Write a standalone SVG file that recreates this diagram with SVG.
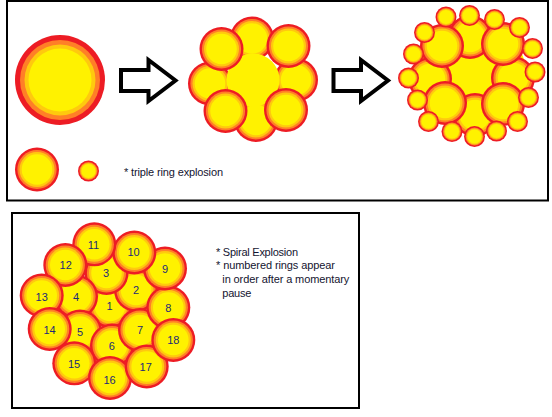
<svg xmlns="http://www.w3.org/2000/svg" xmlns:xlink="http://www.w3.org/1999/xlink" width="552" height="417" viewBox="0 0 552 417">
<style>
.panel{fill:#fff;stroke:#000;stroke-width:2}
.arrow{fill:#fff;stroke:#000;stroke-width:4;stroke-linejoin:miter}
.txt{font-family:"Liberation Sans",Arial,sans-serif;font-size:11px;fill:#141430}
.num{font-family:"Liberation Sans",Arial,sans-serif;font-size:11px;fill:#1c2a78;text-anchor:middle}
.y{fill:#FFF200}
</style>
<defs>
<g id="r22"><circle r="22" fill="#ED1C24"/><circle r="19.6" fill="#FF7F27"/><circle r="17.5" fill="#FFC90E"/><circle r="15.3" fill="#FFF200"/></g>
<g id="r11"><circle r="10.5" fill="#ED1C24"/><circle r="9" fill="#FF7F27"/><circle r="8" fill="#FFC90E"/><circle r="7" fill="#FFF200"/></g>
<g id="r45"><circle r="45" fill="#ED1C24"/><circle r="40" fill="#FF7F27"/><circle r="35.5" fill="#FFC90E"/><circle r="31.5" fill="#FFF200"/></g>
</defs>
<rect class="panel" x="7" y="1" width="541" height="199.5"/>
<rect class="panel" x="12" y="213" width="347" height="195"/>

<g id="big-ring"><use href="#r45" x="60" y="80"/></g>
<g id="legend-medium"><use href="#r22" x="37" y="169.5"/></g>
<g id="legend-small"><use href="#r11" x="88.5" y="171"/></g>
<text class="txt" x="124" y="176" textLength="99">* triple ring explosion</text>

<g id="cluster-middle">
<use href="#r22" x="252" y="38.5"/>
<use href="#r22" x="296" y="80"/>
<use href="#r22" x="256" y="120"/>
<use href="#r22" x="210" y="83.5"/>
<circle class="y" cx="253" cy="80" r="26.5"/>
<use href="#r22" x="221.5" y="49"/>
<use href="#r22" x="288.5" y="46"/>
<use href="#r22" x="286" y="110"/>
<use href="#r22" x="225.5" y="111"/>
</g>

<g id="cluster-right">
<circle class="y" cx="472" cy="77" r="55"/>
<use href="#r22" x="470" y="37"/>
<use href="#r22" x="513" y="78"/>
<use href="#r22" x="475" y="115"/>
<use href="#r22" x="430" y="79"/>
<use href="#r22" x="442" y="46"/>
<use href="#r22" x="503" y="44"/>
<use href="#r22" x="503" y="104"/>
<use href="#r22" x="445" y="103"/>
<use href="#r11" x="446" y="17"/>
<use href="#r11" x="469.5" y="15.5"/>
<use href="#r11" x="494.5" y="19.5"/>
<use href="#r11" x="519.5" y="27.5"/>
<use href="#r11" x="532.5" y="48.5"/>
<use href="#r11" x="535" y="72"/>
<use href="#r11" x="528.5" y="97.5"/>
<use href="#r11" x="517.5" y="121.5"/>
<use href="#r11" x="496.5" y="131"/>
<use href="#r11" x="474.5" y="136.5"/>
<use href="#r11" x="452" y="131.5"/>
<use href="#r11" x="428.5" y="121.5"/>
<use href="#r11" x="417.5" y="100"/>
<use href="#r11" x="408.5" y="78"/>
<use href="#r11" x="413.5" y="54"/>
<use href="#r11" x="424.5" y="32.5"/>
</g>

<g id="connectors">
<polygon class="arrow" points="121,70 148.5,70 148.5,60 175.5,80.5 148.5,101 148.5,91 121,91"/>
<polygon class="arrow" points="333.5,70 361,70 361,60 388,80.5 361,101 361,91 333.5,91"/>
</g>

<g id="spiral">
<g id="n1"><use href="#r22" x="110" y="306"/><text class="num" x="109.5" y="310">1</text></g>
<g id="n2"><use href="#r22" x="136" y="290"/><text class="num" x="136" y="294">2</text></g>
<g id="n3"><use href="#r22" x="106.5" y="273"/><text class="num" x="106" y="277">3</text></g>
<g id="n4"><use href="#r22" x="76" y="296.5"/><text class="num" x="76" y="300.5">4</text></g>
<g id="n5"><use href="#r22" x="80" y="331.5"/><text class="num" x="80" y="335.5">5</text></g>
<g id="n6"><use href="#r22" x="112" y="345.5"/><text class="num" x="111.7" y="349.5">6</text></g>
<g id="n7"><use href="#r22" x="140" y="330"/><text class="num" x="140" y="334">7</text></g>
<g id="n8"><use href="#r22" x="168.3" y="307.5"/><text class="num" x="168.3" y="311.5">8</text></g>
<g id="n9"><use href="#r22" x="165" y="268.5"/><text class="num" x="165" y="273">9</text></g>
<g id="n10"><use href="#r22" x="134.3" y="252.5"/><text class="num" x="133.5" y="256">10</text></g>
<g id="n11"><use href="#r22" x="94.3" y="244.3"/><text class="num" x="93.5" y="249">11</text></g>
<g id="n12"><use href="#r22" x="65.3" y="265"/><text class="num" x="65.7" y="269">12</text></g>
<g id="n13"><use href="#r22" x="41.7" y="295.5"/><text class="num" x="41.7" y="300.5">13</text></g>
<g id="n14"><use href="#r22" x="49.7" y="329"/><text class="num" x="49.5" y="333.5">14</text></g>
<g id="n15"><use href="#r22" x="74.3" y="363.3"/><text class="num" x="74" y="368">15</text></g>
<g id="n16"><use href="#r22" x="110" y="378"/><text class="num" x="109.5" y="384">16</text></g>
<g id="n17"><use href="#r22" x="146.7" y="366.5"/><text class="num" x="145.7" y="370.5">17</text></g>
<g id="n18"><use href="#r22" x="173.3" y="340"/><text class="num" x="173.3" y="344">18</text></g>
</g>

<g id="notes">
<text class="txt" x="216" y="255.5" textLength="82">* Spiral Explosion</text>
<text class="txt" x="216" y="269" textLength="119">* numbered rings appear</text>
<text class="txt" x="222.3" y="283" textLength="127">in order after a momentary</text>
<text class="txt" x="222.3" y="296.5" textLength="29">pause</text>
</g>
</svg>
